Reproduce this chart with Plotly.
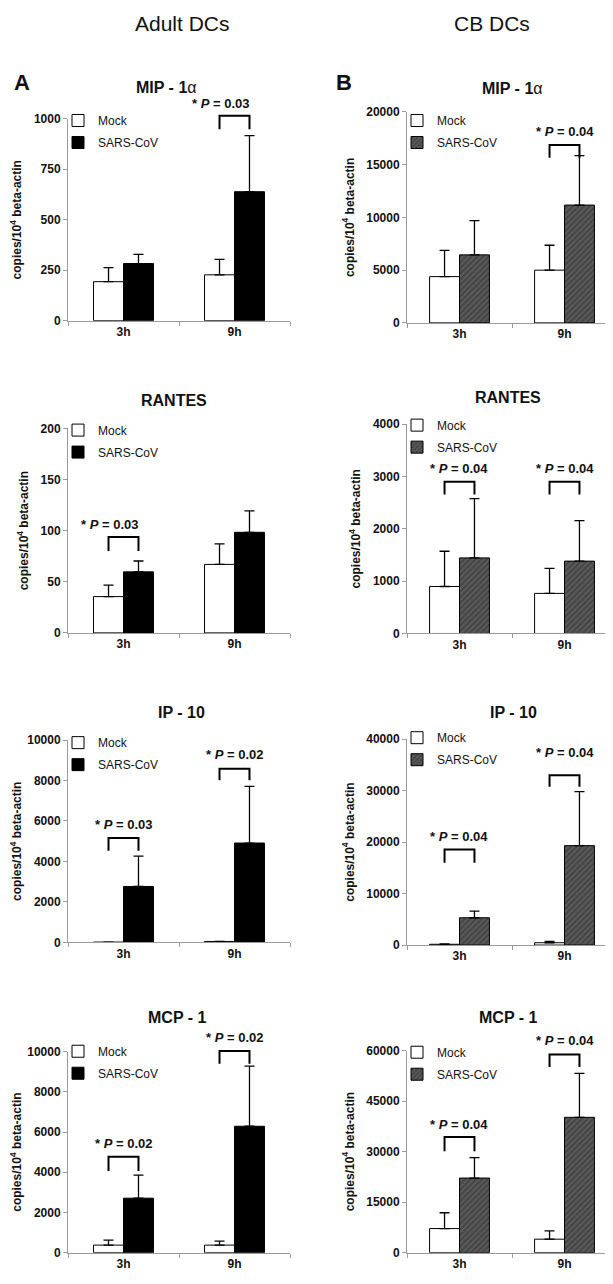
import plotly.graph_objects as go

W, H = 613, 1284
OFF = 8  # default page margin around the figure
FONT = "Arial, Liberation Sans, sans-serif"

categories = ["3h", "9h"]
tick_labels = ["3h", "9h"]
series_names = ["Mock", "SARS-CoV"]

# ---- Adult DCs (A) ----
adult_mip_mock = [193, 227]
adult_mip_mock_err = [70, 77]
adult_mip_sars = [283, 639]
adult_mip_sars_err = [45, 278]

adult_rantes_mock = [35.5, 67]
adult_rantes_mock_err = [11.3, 20]
adult_rantes_sars = [59.7, 98.4]
adult_rantes_sars_err = [10.6, 20.9]

adult_ip10_mock = [20, 50]
adult_ip10_mock_err = [0, 0]
adult_ip10_sars = [2766, 4912]
adult_ip10_sars_err = [1497, 2795]

adult_mcp_mock = [375, 375]
adult_mcp_mock_err = [245, 195]
adult_mcp_sars = [2709, 6285]
adult_mcp_sars_err = [1148, 2990]

# ---- CB DCs (B) ----
cb_mip_mock = [4390, 5000]
cb_mip_mock_err = [2490, 2360]
cb_mip_sars = [6450, 11170]
cb_mip_sars_err = [3240, 4680]

cb_rantes_mock = [898, 766]
cb_rantes_mock_err = [674, 479]
cb_rantes_sars = [1445, 1383]
cb_rantes_sars_err = [1132, 774]

cb_ip10_mock = [150, 450]
cb_ip10_mock_err = [50, 250]
cb_ip10_sars = [5300, 19300]
cb_ip10_sars_err = [1300, 10500]

cb_mcp_mock = [7150, 4000]
cb_mcp_mock_err = [4700, 2470]
cb_mcp_sars = [22150, 40180]
cb_mcp_sars_err = [6085, 13060]

# y-axis scales
y_max = {"A1": 1000, "B1": 20000, "A2": 200, "B2": 4000,
         "A3": 10000, "B3": 40000, "A4": 10000, "B4": 60000}
y_dtick = {"A1": 250, "B1": 5000, "A2": 50, "B2": 1000,
           "A3": 2000, "B3": 10000, "A4": 2000, "B4": 15000}

# significance marks: (category index, p label, bracket top, leg bottom, text level) in data units
sig_A1 = [(1, "0.03", 1015, 949, 1078)]
sig_B1 = [(1, "0.04", 16876, 15657, 18188)]
sig_A2 = [(0, "0.03", 93.8, 80, 106.4)]
sig_B2 = [(0, "0.04", 2899, 2657, 3158), (1, "0.04", 2899, 2657, 3158)]
sig_A3 = [(0, "0.03", 5163, 4528, 5813), (1, "0.02", 8583, 8011, 9267)]
sig_B3 = [(0, "0.04", 18547, 15994, 20986), (1, "0.04", 32947, 30720, 37306)]
sig_A4 = [(0, "0.02", 4771, 4063, 5411), (1, "0.02", 10034, 9395, 10703)]
sig_B4 = [(0, "0.04", 34363, 30134, 38181), (1, "0.04", 58828, 55098, 62939)]

titles = {"A1": "<b>MIP - 1</b>α", "B1": "<b>MIP - 1</b>α",
          "A2": "<b>RANTES</b>", "B2": "<b>RANTES</b>",
          "A3": "<b>IP - 10</b>", "B3": "<b>IP - 10</b>",
          "A4": "<b>MCP - 1</b>", "B4": "<b>MCP - 1</b>"}

panels = [
    ("A1", adult_mip_mock, adult_mip_mock_err, adult_mip_sars, adult_mip_sars_err, sig_A1),
    ("B1", cb_mip_mock, cb_mip_mock_err, cb_mip_sars, cb_mip_sars_err, sig_B1),
    ("A2", adult_rantes_mock, adult_rantes_mock_err, adult_rantes_sars, adult_rantes_sars_err, sig_A2),
    ("B2", cb_rantes_mock, cb_rantes_mock_err, cb_rantes_sars, cb_rantes_sars_err, sig_B2),
    ("A3", adult_ip10_mock, adult_ip10_mock_err, adult_ip10_sars, adult_ip10_sars_err, sig_A3),
    ("B3", cb_ip10_mock, cb_ip10_mock_err, cb_ip10_sars, cb_ip10_sars_err, sig_B3),
    ("A4", adult_mcp_mock, adult_mcp_mock_err, adult_mcp_sars, adult_mcp_sars_err, sig_A4),
    ("B4", cb_mcp_mock, cb_mcp_mock_err, cb_mcp_sars, cb_mcp_sars_err, sig_B4),
]

# ---- layout geometry (screen pixels of the reference) ----
col_geom = {"A": dict(x0=68, x1=290, r=(-0.5, 1.5), bw=0.27),
            "B": dict(x0=407, x1=613, r=(-0.5, -0.5 + 206 / 105), bw=0.285)}
row_geom = {"A1": (113, 317), "B1": (106, 319.3), "A2": (426, 632.7), "B2": (421.7, 633.3),
            "A3": (741, 945.7), "B3": (740, 948.3), "A4": (1056, 1259.3), "B4": (1055, 1259.3)}
title_pos = {"A1": (166, 81), "B1": (512, 82), "A2": (174, 398), "B2": (508, 395),
             "A3": (181, 713), "B3": (513, 713), "A4": (177, 1022), "B4": (508, 1022)}
legend_mock_y = {"A1": 117, "B1": 117, "A2": 430, "B2": 425, "A3": 746, "B3": 741,
                 "A4": 1058, "B4": 1059}
legend_x = {"A": 58, "B": 397}
p_xshift = {"A1": -14, "A2": -14}

fig = go.Figure()
shapes = []
annotations = []
layout_axes = {}


def px_x(px):
    return (px - OFF) / W


def px_y(py):
    return 1 - (py - OFF) / H


for i, (key, mock, mock_err, sars, sars_err, sigs) in enumerate(panels, start=1):
    col = key[0]
    cg = col_geom[col]
    top, bot = row_geom[key]
    xdom = [px_x(cg["x0"]), min(1.0, px_x(cg["x1"]))]
    ydom = [px_y(bot), px_y(top)]
    xr = (cg["r"][0], cg["r"][0] + (cg["r"][1] - cg["r"][0]) *
          (xdom[1] - xdom[0]) / (px_x(cg["x1"]) - px_x(cg["x0"])))
    bw = cg["bw"]
    xa = "x" if i == 1 else f"x{i}"
    ya = "y" if i == 1 else f"y{i}"
    leg = "legend" if i == 1 else f"legend{i}"

    sars_marker = dict(color="black", line=dict(color="black", width=1))
    if col == "B":
        sars_marker = dict(color="#5a5a5a", line=dict(color="black", width=1),
                           pattern=dict(shape="/", fgcolor="#262626", size=4, solidity=0.4))

    err_style = dict(type="data", symmetric=False, color="black", thickness=1.3, width=5)

    fig.add_trace(go.Bar(
        x=categories, y=mock, name=series_names[0], width=bw, offset=-bw,
        marker=dict(color="white", line=dict(color="black", width=1)),
        error_y=dict(array=mock_err, arrayminus=[0] * len(mock), **err_style),
        xaxis=xa, yaxis=ya, legend=leg, legendgroup=f"{key}m", showlegend=True))
    fig.add_trace(go.Bar(
        x=categories, y=sars, name=series_names[1], width=bw, offset=0,
        marker=sars_marker,
        error_y=dict(array=sars_err, arrayminus=[0] * len(sars), **err_style),
        xaxis=xa, yaxis=ya, legend=leg, legendgroup=f"{key}s", showlegend=True))

    ax_line = "#9a9a9a"
    tickfont = dict(family=FONT, size=12, color="#111", weight="bold")
    layout_axes["xaxis" if i == 1 else f"xaxis{i}"] = dict(
        domain=xdom, range=list(xr), anchor=ya, type="category",
        categoryorder="array", categoryarray=categories,
        tickvals=categories, ticktext=tick_labels,
        showline=True, linecolor=ax_line, linewidth=1, ticks="outside",
        tickson="boundaries", ticklen=4, tickcolor=ax_line,
        tickfont=tickfont, showgrid=False, zeroline=False, fixedrange=True)
    layout_axes["yaxis" if i == 1 else f"yaxis{i}"] = dict(
        domain=ydom, range=[0, y_max[key]], anchor=xa, dtick=y_dtick[key], tick0=0,
        tickformat="d",
        showline=True, linecolor=ax_line, linewidth=1, ticks="outside",
        ticklen=4, tickcolor=ax_line, tickfont=tickfont, showgrid=False, zeroline=False,
        title=dict(text="copies/10<sup>4</sup> beta-actin",
                   font=dict(family=FONT, size=12, color="#111", weight="bold"), standoff=9),
        fixedrange=True)

    # legend
    layout_axes[leg] = dict(
        x=px_x(legend_x[col]), y=px_y(legend_mock_y[key] - 17), xanchor="left", yanchor="top",
        bgcolor="rgba(0,0,0,0)", font=dict(family=FONT, size=12, color="#111"),
        tracegroupgap=3, itemwidth=30, borderwidth=0)

    # panel title
    tx, ty = title_pos[key]
    annotations.append(dict(text=titles[key], x=px_x(tx), y=px_y(ty), xref="paper", yref="paper",
                            showarrow=False, xanchor="center", yanchor="middle",
                            font=dict(family=FONT, size=16, color="#111")))

    # significance brackets
    def xp(v):
        return xdom[0] + (v - xr[0]) / (xr[1] - xr[0]) * (xdom[1] - xdom[0])

    def yp(v):
        return ydom[0] + v / y_max[key] * (ydom[1] - ydom[0])

    for (ci, pval, btop, bleg, tlev) in sigs:
        xl = xp(ci - bw / 2)
        xrr = xp(ci + bw / 2)
        shapes.append(dict(type="path", xref="paper", yref="paper",
                           path=f"M {xl},{yp(bleg)} L {xl},{yp(btop)} L {xrr},{yp(btop)} L {xrr},{yp(bleg)}",
                           line=dict(color="black", width=2)))
        annotations.append(dict(text=f"<b>* <i>P</i> = {pval}</b>", x=xp(ci), y=yp(tlev),
                                xref="paper", yref="paper", showarrow=False,
                                xanchor="center", yanchor="middle", xshift=p_xshift.get(key, 0),
                                font=dict(family=FONT, size=13, color="#111")))

# headers
hdr = dict(xref="paper", yref="paper", showarrow=False, xanchor="center", yanchor="middle")
annotations += [
    dict(text="Adult DCs", x=px_x(182), y=px_y(17), font=dict(family=FONT, size=21, color="#111"), **hdr),
    dict(text="CB DCs", x=px_x(492), y=px_y(17), font=dict(family=FONT, size=21, color="#111"), **hdr),
    dict(text="<b>A</b>", x=px_x(22), y=px_y(76), font=dict(family=FONT, size=22, color="#111"), **hdr),
    dict(text="<b>B</b>", x=px_x(344), y=px_y(76), font=dict(family=FONT, size=22, color="#111"), **hdr),
]

fig.update_layout(
    width=W, height=H, margin=dict(l=0, r=0, t=0, b=0),
    paper_bgcolor="white", plot_bgcolor="white",
    barmode="overlay", shapes=shapes, annotations=annotations,
    font=dict(family=FONT, color="#111"),
    **layout_axes)

fig.write_html("out.html")
